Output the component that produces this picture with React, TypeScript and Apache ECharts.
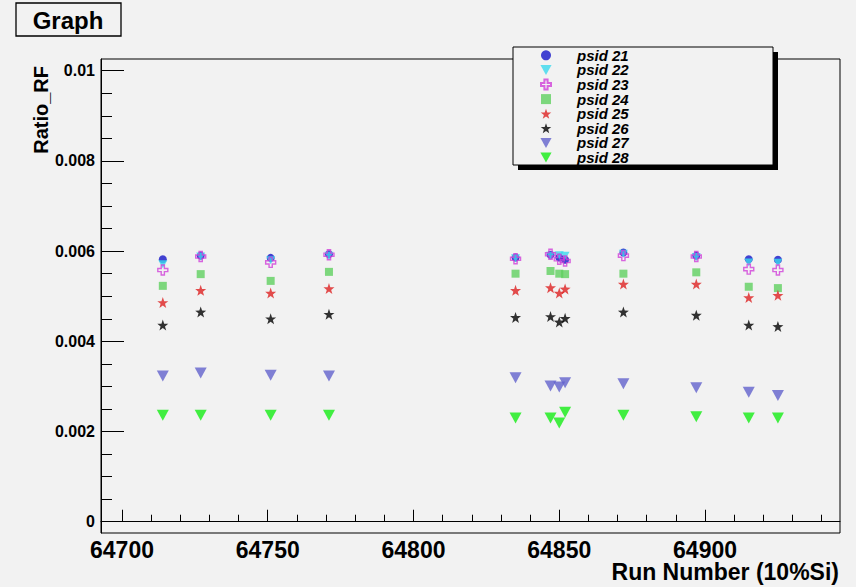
import React, { useEffect, useRef } from "react";
import * as echarts from "echarts";

// ---- data ----
const runs = [64714, 64727, 64751, 64771, 64835, 64847, 64850, 64852, 64872, 64897, 64915, 64925];
const psid21 = [0.00582, 0.0059, 0.00585, 0.00593, 0.00586, 0.00592, 0.00586, 0.00581, 0.00597, 0.0059, 0.00582, 0.00581];
const psid22 = [0.00571, 0.00588, 0.0058, 0.0059, 0.00584, 0.0059, 0.00591, 0.0059, 0.00594, 0.00587, 0.00575, 0.00574];
const psid23 = [0.00558, 0.00588, 0.00575, 0.00592, 0.00583, 0.00593, 0.00582, 0.00578, 0.0059, 0.00588, 0.0056, 0.00558];
const psid24 = [0.00523, 0.00549, 0.00534, 0.00554, 0.0055, 0.00556, 0.0055, 0.00549, 0.0055, 0.00553, 0.00521, 0.00518];
const psid25 = [0.00486, 0.00513, 0.00507, 0.00517, 0.00513, 0.00519, 0.00507, 0.00516, 0.00527, 0.00527, 0.00497, 0.00502];
const psid26 = [0.00436, 0.00465, 0.0045, 0.0046, 0.00453, 0.00455, 0.00443, 0.00451, 0.00465, 0.00458, 0.00436, 0.00433];
const psid27 = [0.00323, 0.0033, 0.00325, 0.00323, 0.00319, 0.00301, 0.00299, 0.00308, 0.00306, 0.00297, 0.00287, 0.0028];
const psid28 = [0.00236, 0.00236, 0.00236, 0.00236, 0.0023, 0.0023, 0.00219, 0.00243, 0.00236, 0.00233, 0.0023, 0.0023];
const seriesNames = ["psid 21", "psid 22", "psid 23", "psid 24", "psid 25", "psid 26", "psid 27", "psid 28"];
const seriesValues = [psid21, psid22, psid23, psid24, psid25, psid26, psid27, psid28];

// ---- tick values ----
const xMajorTicks = [64700, 64750, 64800, 64850, 64900];
const xMinorTicks = [
  64700, 64710, 64720, 64730, 64740, 64750, 64760, 64770, 64780, 64790, 64800, 64810, 64820,
  64830, 64840, 64850, 64860, 64870, 64880, 64890, 64900, 64910, 64920, 64930, 64940,
];
const yMajorTicks = [0, 0.002, 0.004, 0.006, 0.008, 0.01];
const yMinorTicks = [
  0, 0.0005, 0.001, 0.0015, 0.002, 0.0025, 0.003, 0.0035, 0.004, 0.0045, 0.005, 0.0055, 0.006,
  0.0065, 0.007, 0.0075, 0.008, 0.0085, 0.009, 0.0095, 0.01,
];

const titleText = "Graph";
const xTitle = "Run Number (10%Si)";
const yTitle = "Ratio_RF";

// ---- axis ranges ----
const xMin = 64692.8;
const xMax = 64946.3;
const yMin = -0.00025;
const yMax = 0.01026;

// ---- marker styles ----
const TRI = "path://M0,0L10,0L5,9Z";
const STAR =
  "path://M10,0L12.35,6.76L19.51,6.91L13.8,11.24L15.88,18.09L10,14L4.12,18.09L6.2,11.24L0.49,6.91L7.65,6.76Z";
const CROSS = "path://M3.4,0H6.6V3.4H10V6.6H6.6V10H3.4V6.6H0V3.4H3.4Z";
const SQUARE = "path://M0,0H10V10H0Z";

const markerStyles: any[] = [
  { symbol: "circle", size: 8, color: "#1414c8" },
  { symbol: TRI, size: [9, 8], color: "#3ad8ee" },
  { symbol: CROSS, size: 10, color: "transparent", border: "#d040d8" },
  { symbol: SQUARE, size: 8, color: "#5fcf5f" },
  { symbol: STAR, size: 11, color: "#dd2020" },
  { symbol: STAR, size: 11, color: "#000000" },
  { symbol: TRI, size: [12, 11], color: "#6262cc" },
  { symbol: TRI, size: [12, 11], color: "#14ec14" },
];

const BG = "#f2f2f2";
const FONT = "'Liberation Sans', Arial, Helvetica, sans-serif";

export default function App() {
  const ref = useRef<HTMLDivElement>(null);
  useEffect(() => {
    document.body.style.margin = "0";
    const chart = echarts.init(ref.current!, null, { renderer: "svg" });

    const series = seriesNames.map((name, k) => {
      const m = markerStyles[k];
      return {
        type: "scatter",
        name,
        xAxisIndex: 0,
        yAxisIndex: 0,
        symbol: m.symbol,
        symbolSize: m.size,
        itemStyle: m.border
          ? { color: m.color, borderColor: m.border, borderWidth: 1.4 }
          : { color: m.color },
        emphasis: { disabled: true },
        data: runs.map((r, i) => [r, seriesValues[k][i]]),
      };
    });

    const option: any = {
      animation: false,
      backgroundColor: BG,
      textStyle: { fontFamily: FONT },
      grid: {
        left: 101,
        top: 59,
        width: 739,
        height: 474,
        show: true,
        borderColor: "#000",
        borderWidth: 1,
        backgroundColor: "transparent",
        containLabel: false,
      },
      xAxis: [
        {
          type: "value",
          min: xMin,
          max: xMax,
          position: "bottom",
          axisLine: { show: true, lineStyle: { color: "#000", width: 1 } },
          axisTick: {
            show: true,
            inside: true,
            length: 12,
            customValues: xMajorTicks,
            lineStyle: { color: "#000", width: 1 },
          },
          axisLabel: {
            show: true,
            customValues: xMajorTicks,
            color: "#000",
            fontSize: 23,
            fontWeight: "bold",
            fontFamily: FONT,
            margin: 5,
            formatter: (v: number) => String(Math.round(v)),
          },
          splitLine: { show: false },
        },
        {
          type: "value",
          min: xMin,
          max: xMax,
          position: "bottom",
          axisLine: { show: false },
          axisTick: {
            show: true,
            inside: true,
            length: 7,
            customValues: xMinorTicks,
            lineStyle: { color: "#000", width: 1 },
          },
          axisLabel: { show: false },
          splitLine: { show: false },
        },
      ],
      yAxis: [
        {
          type: "value",
          min: yMin,
          max: yMax,
          position: "left",
          axisLine: { show: true, lineStyle: { color: "#000", width: 1 } },
          axisTick: {
            show: true,
            inside: true,
            length: 23,
            customValues: yMajorTicks,
            lineStyle: { color: "#000", width: 1 },
          },
          axisLabel: {
            show: true,
            customValues: yMajorTicks,
            color: "#000",
            fontSize: 16,
            fontWeight: "bold",
            fontFamily: FONT,
            margin: 6,
            formatter: (v: number) => (Math.abs(v) < 1e-12 ? "0" : String(parseFloat(v.toFixed(4)))),
          },
          splitLine: { show: false },
        },
        {
          type: "value",
          min: yMin,
          max: yMax,
          position: "left",
          axisLine: { show: false },
          axisTick: {
            show: true,
            inside: true,
            length: 11,
            customValues: yMinorTicks,
            lineStyle: { color: "#000", width: 1 },
          },
          axisLabel: { show: false },
          splitLine: { show: false },
        },
      ],
      legend: {
        show: true,
        orient: "vertical",
        left: 540,
        top: 47.8,
        padding: 0,
        itemGap: -0.4,
        itemWidth: 52,
        itemHeight: 10,
        z: 20,
        selectedMode: false,
        textStyle: {
          color: "#000",
          fontSize: 15,
          fontWeight: "bold",
          fontStyle: "italic",
          fontFamily: FONT,
        },
        data: seriesNames,
      },
      graphic: [
        {
          type: "rect",
          z: 10,
          shape: { x: 518, y: 52, width: 260, height: 118 },
          style: { fill: "#000" },
          silent: true,
        },
        {
          type: "rect",
          z: 11,
          shape: { x: 513, y: 47, width: 260, height: 118 },
          style: { fill: BG, stroke: "#000", lineWidth: 1 },
          silent: true,
        },
        {
          type: "rect",
          z: 11,
          shape: { x: 16, y: 3, width: 105, height: 33 },
          style: { fill: BG, stroke: "#000", lineWidth: 1.3 },
          silent: true,
        },
        {
          type: "text",
          z: 12,
          x: 68,
          y: 20,
          style: {
            text: titleText,
            font: `bold 24px ${FONT}`,
            fill: "#000",
            textAlign: "center",
            textVerticalAlign: "middle",
            verticalAlign: "middle",
          },
          silent: true,
        },
        {
          type: "text",
          z: 12,
          x: 41,
          y: 66,
          rotation: Math.PI / 2,
          style: {
            text: yTitle,
            font: `bold 20px ${FONT}`,
            fill: "#000",
            textAlign: "right",
            textVerticalAlign: "middle",
            verticalAlign: "middle",
          },
          silent: true,
        },
        {
          type: "text",
          z: 12,
          x: 839,
          y: 572,
          style: {
            text: xTitle,
            font: `bold 23px ${FONT}`,
            fill: "#000",
            textAlign: "right",
            textVerticalAlign: "middle",
            verticalAlign: "middle",
          },
          silent: true,
        },
      ],
      series,
    };

    chart.setOption(option);
    return () => chart.dispose();
  }, []);
  return <div ref={ref} style={{ position: "fixed", left: 0, top: 0, width: 856, height: 587 }} />;
}
